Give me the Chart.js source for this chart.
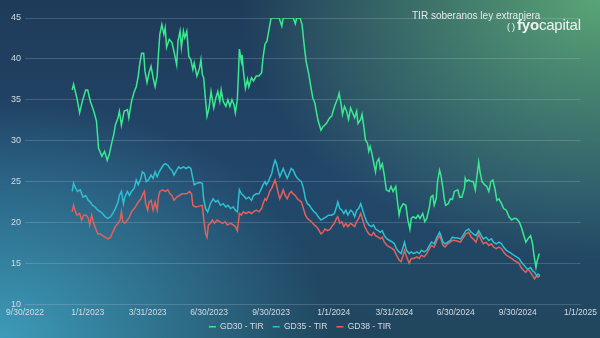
<!DOCTYPE html>
<html lang="es">
<head>
    <meta charset="UTF-8">
    <title>TIR soberanos ley extranjera</title>
    <style>
        * {
            margin: 0;
            padding: 0;
            box-sizing: border-box;
        }

        body {
            width: 600px;
            height: 338px;
            overflow: hidden;
            font-family: 'Liberation Sans', Arial, sans-serif;
            background:
                radial-gradient(ellipse 360px 260px at 600px 0px, rgba(92, 170, 120, 0.95), rgba(92, 170, 120, 0) 100%),
                radial-gradient(ellipse 330px 240px at 0px 338px, rgba(62, 160, 190, 0.95), rgba(62, 160, 190, 0) 100%),
                linear-gradient(180deg, #1f3b5a 0%, #22476a 55%, #21475f 100%);
        }

        .wrap {
            position: relative;
            width: 600px;
            height: 338px;
        }

        canvas {
            position: absolute;
            left: 0;
            top: 0;
        }

        .titulo {
            position: absolute;
            left: 412px;
            top: 10px;
            font-size: 10px;
            color: #e4e9ee;
            white-space: nowrap;
        }

        .logo {
            position: absolute;
            left: 507px;
            top: 16px;
            font-size: 15px;
            color: #eef2f4;
            white-space: nowrap;
            letter-spacing: -0.2px;
        }

        .logo .par {
            font-size: 9px;
            letter-spacing: 2px;
        }

        .logo b {
            font-weight: 700;
        }
    </style>
    <script src="https://cdn.jsdelivr.net/npm/chart.js"></script>
</head>
<body>
    <div class="wrap">
        <canvas id="grafico" width="600" height="338"></canvas>
        <div class="titulo">TIR soberanos ley extranjera</div>
        <div class="logo"><span class="par">()</span><b>fyo</b>capital</div>
    </div>
    <script>
        // Fechas del eje X
        const tickLabels = ['9/30/2022', '1/1/2023', '3/31/2023', '6/30/2023', '9/30/2023',
            '1/1/2024', '3/31/2024', '6/30/2024', '9/30/2024', '1/1/2025'];

        const seriesNames = ['GD30 - TIR', 'GD35 - TIR', 'GD38 - TIR'];

        // [días desde 9/30/2022, TIR %]
        const gd30 = [
            [70, 36.2], [72, 36.9], [77, 35.2], [81, 33.4], [85, 34.8], [90, 36.2], [93, 36.2], [97, 34.8],
            [102, 33.6], [106, 32.4], [108, 30.3], [109, 29.1], [112, 28.5], [114, 28.1], [118, 28.7], [122, 27.6],
            [125, 28.3], [128, 29.5], [132, 30.9], [134, 31.9], [138, 32.8], [140, 33.6], [143, 31.9], [147, 33.6],
            [152, 33.8], [154, 32.8], [158, 34.8], [162, 36.0], [165, 36.6], [168, 37.9], [170, 39.3], [173, 40.7],
            [176, 40.7], [178, 38.5], [181, 37.1], [184, 38.3], [187, 39.1], [190, 37.7], [193, 36.6], [196, 37.9],
            [198, 40.7], [200, 43.0], [203, 44.2], [206, 43.0], [208, 43.8], [210, 41.4], [214, 42.4], [218, 42.0],
            [221, 40.9], [225, 39.3], [227, 42.2], [230, 43.4], [232, 41.4], [235, 43.4], [237, 42.6], [240, 43.4],
            [243, 40.3], [246, 39.9], [249, 38.7], [251, 39.5], [255, 37.9], [259, 38.9], [261, 39.9], [263, 38.1],
            [265, 37.7], [268, 34.8], [270, 33.0], [273, 34.0], [276, 36.0], [280, 34.0], [283, 35.2], [286, 36.0],
            [289, 34.8], [291, 36.2], [294, 34.8], [298, 34.2], [301, 35.0], [304, 34.2], [307, 35.0], [310, 34.4],
            [312, 33.4], [315, 35.0], [317, 38.9], [318, 41.2], [321, 39.7], [322, 40.5], [324, 38.5], [327, 36.4],
            [330, 37.5], [332, 36.6], [336, 37.7], [339, 37.3], [343, 37.9], [347, 37.9], [351, 38.3], [353, 40.1],
            [356, 41.8], [359, 42.2], [362, 43.6], [365, 45.0], [371, 45.0], [377, 45.0], [381, 44.0], [383, 45.0],
            [391, 45.0], [398, 45.0], [401, 44.3], [403, 45.0], [408, 45.0], [411, 44.2], [414, 41.8], [417, 39.7],
            [421, 38.1], [424, 36.6], [427, 35.2], [430, 34.6], [433, 33.2], [435, 32.4], [439, 31.3], [442, 31.7],
            [447, 32.1], [452, 32.8], [455, 33.0], [457, 33.6], [460, 34.4], [464, 35.2], [466, 35.8], [469, 34.4],
            [471, 33.2], [474, 34.2], [477, 33.6], [480, 32.6], [483, 34.0], [485, 33.6], [489, 32.8], [492, 33.6],
            [494, 32.1], [498, 32.6], [500, 33.2], [503, 31.5], [505, 30.1], [508, 29.7], [510, 28.7], [512, 29.3],
            [515, 28.3], [518, 27.0], [520, 26.2], [522, 27.4], [525, 27.8], [527, 26.6], [530, 27.2], [533, 25.8],
            [536, 24.0], [540, 23.8], [543, 24.4], [546, 23.8], [550, 24.4], [552, 22.9], [555, 20.9], [557, 21.7],
            [561, 22.3], [565, 22.1], [568, 20.3], [571, 19.2], [573, 20.5], [576, 20.7], [580, 20.5], [583, 20.9],
            [586, 20.5], [590, 21.1], [593, 20.1], [596, 20.5], [600, 21.9], [602, 23.1], [605, 23.3], [607, 22.1],
            [610, 22.9], [612, 25.0], [615, 26.4], [617, 25.8], [620, 24.2], [622, 22.9], [624, 22.1], [628, 22.3],
            [631, 22.9], [634, 22.8], [637, 23.8], [642, 24.0], [645, 23.1], [648, 23.1], [652, 24.2], [653, 25.4],
            [655, 25.0], [658, 25.2], [662, 25.0], [665, 25.0], [668, 24.0], [670, 25.4], [673, 27.4], [675, 26.2],
            [678, 25.0], [682, 24.6], [685, 24.4], [688, 23.8], [691, 25.0], [694, 25.2], [697, 24.2], [700, 22.7],
            [703, 22.9], [707, 22.3], [710, 21.7], [714, 21.5], [718, 20.7], [722, 20.3], [725, 20.5], [729, 20.5],
            [733, 20.1], [736, 19.5], [740, 18.4], [743, 17.6], [746, 18.0], [750, 18.4], [753, 17.4], [755, 16.0],
            [758, 14.5], [760, 15.4], [763, 16.2]
        ];

        const gd35 = [
            [70, 23.8], [72, 24.8], [75, 24.2], [78, 23.8], [82, 24.0], [86, 23.1], [90, 23.3], [94, 22.7],
            [97, 22.5], [100, 22.1], [104, 21.9], [108, 21.5], [112, 21.3], [115, 21.1], [119, 20.7], [123, 20.5],
            [127, 20.7], [130, 21.1], [134, 21.7], [138, 22.5], [140, 23.3], [143, 23.8], [146, 22.3], [148, 23.1],
            [152, 23.8], [155, 23.3], [158, 23.8], [162, 24.2], [165, 25.2], [168, 24.6], [172, 25.4], [174, 26.2],
            [177, 26.0], [180, 25.0], [183, 25.2], [187, 25.8], [190, 25.4], [193, 26.2], [196, 25.6], [199, 26.2],
            [202, 26.6], [205, 27.0], [208, 27.2], [212, 27.0], [215, 26.6], [218, 26.4], [221, 25.8], [225, 26.4],
            [228, 26.8], [231, 26.6], [235, 26.8], [239, 26.6], [243, 26.8], [246, 26.6], [249, 25.4], [251, 24.6],
            [255, 24.8], [259, 24.9], [263, 24.8], [265, 22.9], [268, 21.7], [271, 21.3], [275, 22.3], [279, 22.9],
            [283, 22.5], [286, 22.7], [290, 22.1], [294, 22.3], [298, 21.9], [301, 22.1], [305, 21.7], [309, 21.9],
            [312, 21.5], [315, 21.3], [318, 24.0], [321, 23.5], [324, 23.3], [328, 22.9], [332, 23.1], [336, 22.7],
            [339, 23.3], [343, 23.5], [347, 23.5], [351, 24.2], [353, 24.6], [356, 25.0], [358, 24.6], [361, 25.0],
            [363, 25.4], [366, 26.0], [368, 26.8], [371, 27.6], [373, 27.2], [376, 26.2], [378, 25.6], [381, 26.2],
            [383, 26.6], [386, 26.0], [389, 25.4], [392, 26.0], [395, 26.6], [398, 26.4], [401, 25.8], [404, 25.4],
            [407, 25.2], [410, 25.0], [413, 24.2], [416, 22.9], [419, 22.3], [422, 22.1], [425, 21.7], [429, 21.3],
            [432, 21.1], [435, 20.7], [439, 20.3], [443, 20.5], [447, 20.7], [450, 20.9], [455, 20.9], [459, 21.1],
            [462, 21.9], [464, 22.5], [467, 21.7], [470, 21.5], [473, 21.1], [476, 21.5], [479, 20.9], [483, 21.5],
            [486, 21.3], [489, 20.7], [492, 21.5], [495, 21.7], [498, 22.3], [501, 21.5], [504, 20.7], [507, 20.1],
            [510, 19.7], [514, 19.5], [517, 19.7], [520, 19.2], [524, 19.0], [527, 18.8], [530, 19.0], [533, 18.4],
            [537, 18.0], [541, 17.8], [545, 17.6], [548, 17.4], [551, 16.8], [555, 16.4], [558, 16.2], [561, 17.0],
            [563, 17.6], [566, 16.6], [570, 16.2], [573, 16.4], [577, 16.2], [581, 16.4], [585, 16.2], [588, 16.6],
            [592, 16.4], [596, 16.6], [600, 17.2], [603, 17.6], [607, 17.4], [611, 18.2], [615, 18.8], [617, 18.4],
            [620, 17.6], [623, 17.4], [627, 17.6], [631, 17.8], [634, 18.2], [638, 18.1], [642, 18.1], [646, 18.0],
            [649, 18.3], [654, 19.0], [658, 19.2], [662, 18.8], [665, 18.6], [669, 18.4], [673, 19.0], [677, 18.4],
            [680, 18.0], [684, 18.2], [688, 17.8], [692, 18.0], [695, 17.6], [699, 17.4], [703, 17.6], [707, 17.4],
            [710, 17.0], [714, 16.6], [718, 16.4], [722, 16.2], [725, 16.0], [729, 15.8], [733, 15.6], [736, 15.2],
            [740, 14.8], [743, 14.5], [746, 14.3], [750, 14.5], [753, 14.1], [756, 13.9], [759, 13.5], [761, 13.7],
            [764, 13.5]
        ];

        const gd38 = [
            [70, 21.3], [72, 22.1], [75, 21.3], [77, 20.9], [81, 21.1], [84, 20.3], [87, 20.9], [91, 20.9],
            [94, 20.5], [96, 19.7], [99, 20.9], [102, 19.9], [106, 19.0], [108, 18.6], [112, 18.6], [115, 18.4],
            [119, 18.2], [123, 18.0], [127, 18.2], [130, 18.8], [134, 19.5], [138, 19.9], [141, 20.3], [143, 21.3],
            [145, 20.1], [148, 19.9], [152, 20.3], [155, 20.7], [158, 21.3], [162, 21.7], [165, 22.1], [168, 22.5],
            [172, 22.9], [175, 23.5], [177, 23.8], [179, 22.3], [182, 21.5], [184, 22.5], [187, 22.7], [190, 21.5],
            [193, 22.5], [196, 21.5], [198, 23.1], [200, 23.8], [204, 24.0], [208, 23.8], [212, 24.0], [215, 23.5],
            [218, 23.3], [221, 22.7], [225, 23.1], [229, 23.3], [233, 23.5], [236, 23.5], [240, 23.5], [244, 23.8],
            [247, 23.5], [249, 22.1], [253, 21.9], [259, 22.0], [263, 22.1], [265, 20.5], [268, 18.6], [270, 18.2],
            [272, 19.7], [275, 19.9], [278, 20.3], [281, 19.9], [285, 20.3], [289, 20.1], [293, 19.9], [297, 20.1],
            [300, 19.7], [305, 19.9], [309, 19.7], [312, 19.5], [315, 19.0], [318, 21.1], [321, 20.9], [324, 21.3],
            [328, 21.1], [332, 21.3], [336, 21.1], [339, 21.3], [343, 21.5], [347, 21.3], [351, 21.7], [353, 22.3],
            [356, 22.9], [358, 22.7], [361, 23.3], [363, 23.8], [366, 24.2], [368, 24.6], [371, 25.2], [373, 24.6],
            [376, 23.5], [378, 22.9], [381, 23.5], [383, 24.0], [386, 23.3], [389, 22.9], [392, 23.5], [395, 23.8],
            [398, 23.5], [401, 23.3], [404, 22.9], [407, 22.7], [410, 22.5], [413, 21.7], [416, 20.9], [419, 20.5],
            [422, 20.3], [425, 20.1], [429, 19.7], [432, 19.5], [435, 19.2], [439, 18.6], [442, 18.8], [445, 19.2],
            [449, 19.0], [453, 19.2], [455, 19.5], [459, 19.9], [462, 20.5], [464, 20.7], [467, 19.9], [470, 20.1],
            [473, 19.5], [476, 19.9], [479, 19.5], [483, 19.9], [486, 19.7], [489, 19.5], [492, 20.1], [495, 20.5],
            [498, 21.1], [501, 20.3], [504, 19.5], [507, 19.0], [510, 18.6], [514, 18.4], [517, 18.8], [520, 18.4],
            [524, 18.2], [527, 18.0], [530, 18.2], [533, 17.6], [537, 17.2], [541, 17.0], [545, 16.8], [548, 16.6],
            [551, 16.0], [555, 15.4], [558, 15.2], [561, 16.0], [563, 16.6], [566, 15.8], [570, 15.0], [573, 15.6],
            [577, 15.6], [581, 15.8], [585, 15.6], [588, 16.0], [592, 15.8], [596, 16.2], [600, 16.8], [603, 17.2],
            [607, 17.0], [611, 17.8], [615, 18.4], [617, 18.0], [620, 17.2], [623, 17.0], [627, 17.4], [631, 17.6],
            [634, 17.8], [638, 17.8], [642, 17.7], [646, 17.6], [649, 18.0], [654, 18.6], [658, 18.8], [662, 18.2],
            [665, 18.0], [669, 17.6], [673, 18.6], [677, 17.8], [680, 17.4], [684, 17.6], [688, 17.2], [692, 17.4],
            [695, 17.0], [699, 16.8], [703, 17.0], [707, 16.8], [710, 16.4], [714, 16.0], [718, 15.8], [722, 15.6],
            [725, 15.4], [729, 15.2], [733, 15.0], [736, 14.5], [740, 14.1], [743, 13.9], [746, 14.3], [750, 13.9],
            [753, 13.5], [756, 13.1], [759, 13.5], [761, 13.3], [764, 13.5]
        ];

        const seriesColors = ['#3ae891', '#2fbfcf', '#e4605c'];

        // días transcurridos desde la primera fecha del eje
        function diasDesde(fecha) {
            const [m, d, a] = fecha.split('/').map(Number);
            const [m0, d0, a0] = tickLabels[0].split('/').map(Number);
            return Math.round((Date.UTC(a, m - 1, d) - Date.UTC(a0, m0 - 1, d0)) / 86400000);
        }

        const tickDays = tickLabels.map(diasDesde);

        const aPuntos = serie => serie.map(([x, y]) => ({ x: x, y: y }));

        Chart.defaults.font.family = "'Liberation Sans', Arial, sans-serif";
        Chart.defaults.color = '#d3dbe2';

        const ctx = document.getElementById('grafico').getContext('2d');
        new Chart(ctx, {
            type: 'line',
            data: {
                datasets: [gd30, gd35, gd38].map((serie, i) => ({
                    label: seriesNames[i],
                    data: aPuntos(serie),
                    borderColor: seriesColors[i],
                    backgroundColor: seriesColors[i],
                    borderWidth: 1.5,
                    pointRadius: 0,
                    tension: 0
                }))
            },
            options: {
                responsive: false,
                animation: false,
                layout: {
                    padding: { top: 18, left: 7, right: 7, bottom: -3 }
                },
                plugins: {
                    legend: {
                        position: 'bottom',
                        labels: {
                            usePointStyle: true,
                            pointStyle: 'line',
                            pointStyleWidth: 7,
                            padding: 2,
                            font: { size: 8.5 },
                            color: '#d3dbe2',
                            // separación extra entre entradas
                            generateLabels: chart => {
                                const items = Chart.defaults.plugins.legend.labels.generateLabels(chart);
                                items.forEach((it, i) => {
                                    if (i < items.length - 1) it.text += '   ';
                                });
                                return items;
                            }
                        }
                    },
                    tooltip: { enabled: false }
                },
                scales: {
                    x: {
                        type: 'linear',
                        min: tickDays[0],
                        max: tickDays[tickDays.length - 1],
                        afterBuildTicks: scale => {
                            scale.ticks = tickDays.map(v => ({ value: v }));
                        },
                        ticks: {
                            autoSkip: false,
                            maxRotation: 0,
                            padding: 3,
                            font: { size: 8.5 },
                            callback: (v, i) => tickLabels[i]
                        },
                        grid: { display: false, drawTicks: false },
                        border: { display: false }
                    },
                    y: {
                        min: 10,
                        max: 45,
                        ticks: {
                            stepSize: 5,
                            padding: 4,
                            font: { size: 9 }
                        },
                        grid: {
                            color: 'rgba(200, 210, 220, 0.22)',
                            lineWidth: 1,
                            drawTicks: false
                        },
                        border: { display: false }
                    }
                }
            }
        });
    </script>
</body>
</html>
